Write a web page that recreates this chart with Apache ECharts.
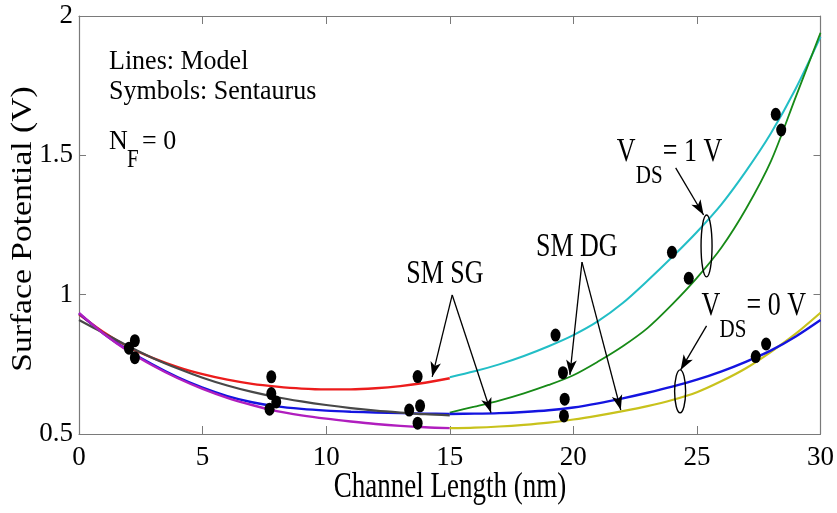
<!DOCTYPE html>
<html>
<head>
<meta charset="utf-8">
<script src="https://cdn.jsdelivr.net/npm/echarts@6/dist/echarts.min.js"></script>
<style>
  html, body { margin: 0; padding: 0; background: #ffffff; }
  #chart { width: 837px; height: 513px; }
</style>
</head>
<body>
<div id="chart"></div>
<script>
// Channel length samples (nm) for the two halves of every model curve
const lengthFirstHalf  = [0, 1, 2, 3, 4, 5, 6, 7, 8, 9, 10, 11, 12, 13, 14, 15];
const lengthSecondHalf = [15, 16, 17, 18, 19, 20, 21, 22, 23, 24, 25, 26, 27, 28, 29, 30];

// Model surface potential (V)
// SM SG, VDS = 1 V
const sgVds1First  = [0.930, 0.865, 0.812, 0.772, 0.740, 0.715, 0.695, 0.680, 0.670, 0.663, 0.660, 0.660, 0.664, 0.672, 0.684, 0.700];
const sgVds1Second = [0.704, 0.725, 0.750, 0.780, 0.815, 0.855, 0.905, 0.970, 1.050, 1.135, 1.225, 1.325, 1.445, 1.580, 1.740, 1.925];
// SM DG, VDS = 1 V
const dgVds1First  = [0.909, 0.862, 0.815, 0.772, 0.735, 0.702, 0.674, 0.651, 0.632, 0.617, 0.604, 0.593, 0.584, 0.577, 0.571, 0.567];
const dgVds1Second = [0.577, 0.598, 0.620, 0.646, 0.676, 0.711, 0.760, 0.815, 0.880, 0.965, 1.060, 1.170, 1.310, 1.480, 1.710, 1.940];
// SM SG, VDS = 0 V
const sgVds0First  = [0.933, 0.860, 0.800, 0.748, 0.703, 0.666, 0.636, 0.614, 0.599, 0.590, 0.584, 0.580, 0.577, 0.575, 0.573, 0.572];
const sgVds0Second = [0.572, 0.573, 0.575, 0.579, 0.585, 0.595, 0.610, 0.628, 0.648, 0.670, 0.695, 0.725, 0.760, 0.800, 0.850, 0.909];
// SM DG, VDS = 0 V
const dgVds0First  = [0.935, 0.860, 0.797, 0.745, 0.700, 0.662, 0.630, 0.604, 0.582, 0.567, 0.555, 0.545, 0.536, 0.529, 0.524, 0.521];
const dgVds0Second = [0.521, 0.523, 0.527, 0.533, 0.541, 0.552, 0.566, 0.582, 0.600, 0.622, 0.650, 0.690, 0.737, 0.795, 0.860, 0.935];

// Sentaurus simulation points
const simLength    = [2.02, 2.26, 2.26, 7.78, 7.78, 7.98, 7.71, 13.70, 13.36, 13.80, 13.70, 19.28, 19.58, 19.65, 19.62, 23.99, 24.67, 27.38, 27.80, 28.19, 28.41];
const simPotential = [0.808, 0.835, 0.774, 0.705, 0.645, 0.615, 0.589, 0.706, 0.586, 0.601, 0.539, 0.855, 0.720, 0.625, 0.565, 1.152, 1.059, 0.778, 0.823, 1.647, 1.591];

// Axis tick labels
const xTickLabels = ['0', '5', '10', '15', '20', '25', '30'];
const yTickLabels = ['0.5', '1', '1.5', '2'];

// Bias groups circled on the curves: channel length, lower and upper potential enclosed
const loopLength = [25.39, 24.32];
const loopLow    = [1.064, 0.576];
const loopHigh   = [1.286, 0.730];

const SERIF = '"Liberation Serif", "Times New Roman", serif';
const AXIS_GRAY = '#7a7a7a';

function pairs(xs, ys) { return xs.map((x, i) => [x, ys[i]]); }

function modelLine(name, xs, ys, color, width) {
  return {
    name: name, type: 'line', data: pairs(xs, ys), smooth: 0.3,
    showSymbol: false, silent: true,
    lineStyle: { color: color, width: width }
  };
}

const chart = echarts.init(document.getElementById('chart'), null, { renderer: 'canvas' });

const baseAxisX = { type: 'value', min: 0, max: 30, interval: 5, splitLine: { show: false } };
const baseAxisY = { type: 'value', min: 0.5, max: 2, interval: 0.5, splitLine: { show: false } };

chart.setOption({
  animation: false,
  backgroundColor: '#ffffff',
  grid: { left: 79, right: 15, top: 16, bottom: 79, containLabel: false },
  xAxis: [
    Object.assign({}, baseAxisX, {
      position: 'bottom',
      axisLine: { show: true, lineStyle: { color: AXIS_GRAY, width: 1.2 } },
      axisTick: { show: true, inside: true, length: 8, lineStyle: { color: AXIS_GRAY } },
      axisLabel: {
        show: true, margin: 10, color: '#000', fontFamily: SERIF, fontSize: 27,
        formatter: (v) => xTickLabels[Math.round(v / 5)]
      }
    }),
    Object.assign({}, baseAxisX, {
      position: 'top',
      axisLine: { show: true, onZero: false, lineStyle: { color: AXIS_GRAY, width: 1.2 } },
      axisTick: { show: true, inside: true, length: 8, lineStyle: { color: AXIS_GRAY } },
      axisLabel: { show: false }
    })
  ],
  yAxis: [
    Object.assign({}, baseAxisY, {
      position: 'left',
      axisLine: { show: true, onZero: false, lineStyle: { color: AXIS_GRAY, width: 1.2 } },
      axisTick: { show: true, inside: true, length: 7, lineStyle: { color: AXIS_GRAY } },
      axisLabel: {
        show: true, margin: 6, color: '#000', fontFamily: SERIF, fontSize: 27,
        formatter: (v) => yTickLabels[Math.round((v - 0.5) / 0.5)]
      }
    }),
    Object.assign({}, baseAxisY, {
      position: 'right',
      axisLine: { show: true, onZero: false, lineStyle: { color: AXIS_GRAY, width: 1.2 } },
      axisTick: { show: true, inside: true, length: 7, lineStyle: { color: AXIS_GRAY } },
      axisLabel: { show: false }
    })
  ],
  series: [
    modelLine('SM SG, VDS = 1 V', lengthFirstHalf, sgVds1First, '#ec1c1c', 2.4),
    modelLine('SM SG, VDS = 0 V', lengthFirstHalf, sgVds0First, '#1414e0', 2.4),
    modelLine('SM DG, VDS = 1 V', lengthFirstHalf, dgVds1First, '#484848', 2.2),
    modelLine('SM DG, VDS = 0 V', lengthFirstHalf, dgVds0First, '#b01ebe', 2.4),
    modelLine('SM SG, VDS = 1 V ', lengthSecondHalf, sgVds1Second, '#22bec6', 2),
    modelLine('SM DG, VDS = 1 V ', lengthSecondHalf, dgVds1Second, '#178a17', 1.8),
    modelLine('SM DG, VDS = 0 V ', lengthSecondHalf, dgVds0Second, '#c8c21c', 2.2),
    modelLine('SM SG, VDS = 0 V ', lengthSecondHalf, sgVds0Second, '#1414e0', 2.4),
    {
      name: 'Sentaurus', type: 'scatter', data: pairs(simLength, simPotential),
      symbol: 'circle', symbolSize: [10, 13], silent: true, z: 5,
      itemStyle: { color: '#000000', opacity: 1 }
    },
    {
      name: 'bias loops', type: 'custom', silent: true, z: 6,
      data: loopLength.map((x, i) => [x, loopLow[i], loopHigh[i]]),
      renderItem: function (params, api) {
        const top = api.coord([api.value(0), api.value(2)]);
        const bottom = api.coord([api.value(0), api.value(1)]);
        return {
          type: 'ellipse',
          shape: { cx: top[0], cy: (top[1] + bottom[1]) / 2, rx: 5.5, ry: (bottom[1] - top[1]) / 2 },
          style: { fill: 'none', stroke: '#000000', lineWidth: 1.4 }
        };
      }
    },
    {
      name: 'pointers', type: 'line', data: [], silent: true, z: 7,
      markLine: {
        silent: true, animation: false,
        symbol: ['none', 'arrow'], symbolSize: [8, 15],
        label: { show: false },
        lineStyle: { color: '#000000', width: 1.3, type: 'solid' },
        data: [
          [{ coord: [15.10, 0.999] }, { coord: [14.29, 0.705] }],
          [{ coord: [15.10, 0.999] }, { coord: [16.67, 0.576] }],
          [{ coord: [20.35, 1.117] }, { coord: [19.86, 0.712] }],
          [{ coord: [20.35, 1.117] }, { coord: [21.92, 0.586] }],
          [{ coord: [24.14, 1.455] }, { coord: [25.27, 1.286] }],
          [{ coord: [25.39, 0.888] }, { coord: [24.34, 0.730] }]
        ]
      }
    }
  ]
});

// Text annotations, placed from data anchors
function px(x, y) { return chart.convertToPixel({ xAxisIndex: 0, yAxisIndex: 0 }, [x, y]); }

function label(text, x, y, size, opts) {
  opts = opts || {};
  return {
    type: 'text', x: x, y: y, silent: true, z: 20,
    rotation: opts.rotation || 0,
    scaleX: opts.scaleX || 1, scaleY: opts.scaleY || 1,
    style: {
      text: text, fill: '#000000',
      font: size + 'px ' + SERIF,
      textAlign: opts.align || 'left', align: opts.align || 'left',
      textVerticalAlign: opts.vAlign || 'top', verticalAlign: opts.vAlign || 'top'
    }
  };
}

const sgAnchor = px(13.24, 1.107);
const dgAnchor = px(18.49, 1.203);
const v1Anchor = px(21.76, 1.544);
const v0Anchor = px(25.19, 0.992);
const S = 1.28;

chart.setOption({
  graphic: [
    label('Lines: Model', 109, 48, 26, { scaleY: 1.08 }),
    label('Symbols: Sentaurus', 109, 78, 26, { scaleY: 1.08 }),
    label('N', 109, 128, 26, { scaleY: 1.08 }),
    label('F', 127, 149, 21, { scaleY: 1.15 }),
    label('= 0', 142, 128, 26, { scaleY: 1.08 }),

    label('SM SG', sgAnchor[0], sgAnchor[1] - 7, 26, { scaleY: S }),
    label('SM DG', dgAnchor[0], dgAnchor[1] - 7, 26, { scaleY: S }),

    label('V', v1Anchor[0], v1Anchor[1] - 7, 26, { scaleY: S }),
    label('DS', v1Anchor[0] + 19, v1Anchor[1] + 21, 21, { scaleY: 1.2 }),
    label('= 1 V', v1Anchor[0] + 46, v1Anchor[1] - 7, 26, { scaleY: S }),

    label('V', v0Anchor[0], v0Anchor[1] - 7, 26, { scaleY: S }),
    label('DS', v0Anchor[0] + 18, v0Anchor[1] + 21, 21, { scaleY: 1.2 }),
    label('= 0 V', v0Anchor[0] + 45, v0Anchor[1] - 7, 26, { scaleY: S }),

    label('Channel Length (nm)', 450, 470, 27, { align: 'center', scaleY: 1.3 }),
    label('Surface Potential (V)', 23, 229, 30, { align: 'center', vAlign: 'middle', rotation: Math.PI / 2, scaleX: 1.12 })
  ]
});
</script>
</body>
</html>
